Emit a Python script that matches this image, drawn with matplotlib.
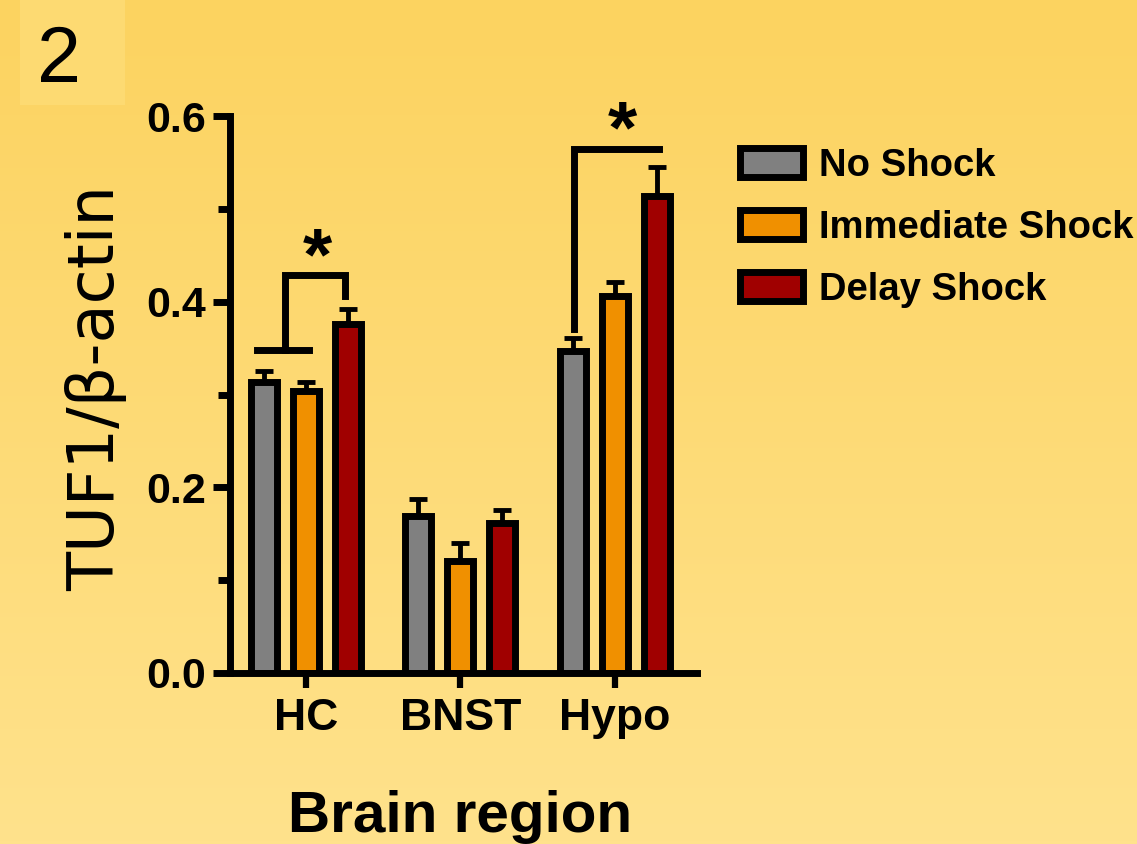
import numpy as np
import matplotlib
matplotlib.use("Agg")
import matplotlib.pyplot as plt
from matplotlib.patches import Patch, Rectangle

# données
regions = ["HC", "BNST", "Hypo"]
groupes = ["No Shock", "Immediate Shock", "Delay Shock"]
couleurs = ["#808080", "#F09000", "#A00000"]

no_shock = [0.313, 0.169, 0.347]
immediate = [0.304, 0.121, 0.406]
delay = [0.376, 0.162, 0.514]

err_no_shock = [0.012, 0.018, 0.014]
err_immediate = [0.010, 0.019, 0.015]
err_delay = [0.016, 0.014, 0.031]

yticks = [0.0, 0.2, 0.4, 0.6]

POLICE = "Liberation Sans"

fig = plt.figure(figsize=(11.37, 8.44), dpi=100)

# fond en dégradé
bg = fig.add_axes([0, 0, 1, 1], zorder=-10)
top = np.array([252, 211, 96]) / 255
bot = np.array([255, 226, 140]) / 255
t = np.linspace(0, 1, 256)[:, None]
grad = top[None, :] * (1 - t) + bot[None, :] * t
bg.imshow(grad[:, None, :], aspect="auto", extent=[0, 1, 0, 1])
bg.add_patch(Rectangle((20 / 1137, 1 - 105 / 844), 105 / 1137, 105 / 844,
                       color="#FDDA72", lw=0))
bg.set_xlim(0, 1)
bg.set_ylim(0, 1)
bg.axis("off")

fig.text(59 / 1137, 1 - 82 / 844, "2", fontsize=57, family=POLICE,
         ha="center", va="baseline")

ax = fig.add_axes([230 / 1137, 1 - 673 / 844, (697 - 230) / 1137, (673 - 116) / 844])
ax.patch.set_alpha(0)

x = np.arange(len(regions))
w = 0.168
dx = 0.272
series = [no_shock, immediate, delay]
errs = [err_no_shock, err_immediate, err_delay]

for i in range(3):
    pos = x + (i - 1) * dx
    ax.bar(pos, series[i], width=w, color=couleurs[i], edgecolor="black",
           linewidth=5, zorder=2, label=groupes[i])
    ax.errorbar(pos, series[i], yerr=[np.zeros(3), errs[i]], fmt="none",
                ecolor="black", elinewidth=3.5, capsize=6.8, capthick=3.5, zorder=1)

# crochets de significativité
ax.plot([0.252, 0.252, -0.136, -0.136], [0.406, 0.429, 0.429, 0.348],
        color="black", lw=5, solid_joinstyle="miter", clip_on=False)
ax.plot([-0.317, 0.019], [0.348, 0.348], color="black", lw=5, clip_on=False)
ax.plot([1.735, 1.735, 2.285], [0.371, 0.564, 0.564],
        color="black", lw=5, solid_joinstyle="miter", clip_on=False)
ax.text(0.078, 0.424, "*", fontsize=54, fontweight="bold", family=POLICE,
        ha="center", va="baseline", clip_on=False)
ax.text(2.045, 0.561, "*", fontsize=54, fontweight="bold", family=POLICE,
        ha="center", va="baseline", clip_on=False)

ax.set_xlim(-0.49, 2.53)
ax.set_ylim(0, 0.6)
ax.spines["top"].set_visible(False)
ax.spines["right"].set_visible(False)
ax.spines["left"].set_linewidth(5)
ax.spines["bottom"].set_linewidth(5)

ax.set_yticks(yticks)
ax.set_yticklabels(["%.1f" % v for v in yticks])
ax.set_yticks([0.1, 0.3, 0.5], minor=True)
ax.set_xticks(x)
ax.set_xticklabels(regions)
ax.tick_params(axis="y", which="major", length=12, width=5, pad=5)
ax.tick_params(axis="y", which="minor", length=8.5, width=5)
ax.tick_params(axis="x", length=11, width=4.5, pad=7)
for lab in ax.get_yticklabels():
    lab.set_family(POLICE)
    lab.set_fontweight("bold")
    lab.set_fontsize(31)
for lab in ax.get_xticklabels():
    lab.set_family(POLICE)
    lab.set_fontweight("bold")
    lab.set_fontsize(32)

fig.text(96 / 1137, 1 - 388 / 844, "TUF1/\u03b2-actin", fontsize=46, family="DejaVu Sans",
         rotation=90, ha="center", va="center")
fig.text(460 / 1137, 1 - 832 / 844, "Brain region", fontsize=42, fontweight="bold",
         family=POLICE, ha="center", va="baseline")

handles = [Patch(facecolor=c, edgecolor="black", linewidth=5) for c in couleurs]
fig.legend(handles, groupes, loc="upper left", bbox_to_anchor=(740 / 1137, 1 - 148 / 844),
           frameon=False, borderpad=0, borderaxespad=0, handlelength=1.65,
           handleheight=0.81, handletextpad=0.43, labelspacing=0.68,
           prop={"family": POLICE, "weight": "bold", "size": 27.5})

fig.savefig("out.png", dpi=100)
